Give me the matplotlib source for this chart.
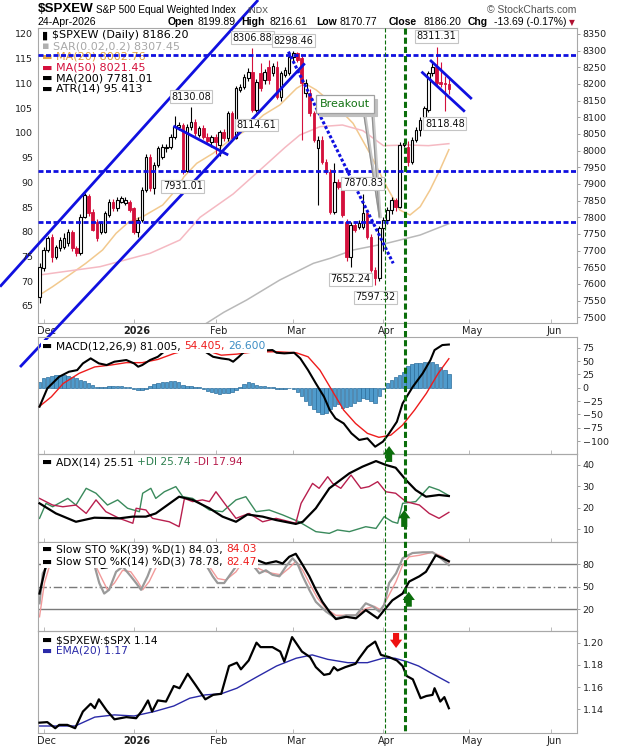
import numpy as np
import pandas as pd
import matplotlib
matplotlib.use('Agg')
import matplotlib.pyplot as plt
from matplotlib.lines import Line2D
from matplotlib.transforms import blended_transform_factory, ScaledTranslation
from matplotlib.offsetbox import TextArea, HPacker, VPacker, AnchoredOffsetbox

plt.rcParams['font.family'] = ['DejaVu Sans']

# ---------------- data ----------------
# daily candles, 28-Nov-2025 .. 24-Apr-2026 (trading days)
opens = [7560, 7647, 7702, 7742, 7682, 7707, 7712, 7722, 7757, 7707,
         7692, 7802, 7865, 7817, 7787, 7757, 7757, 7807, 7847, 7827,
         7847, 7842, 7847, 7827, 7757, 7792, 7882, 7982, 7887, 7957,
         7982, 8007, 8012, 8042, 8072, 8077, 7940, 8070, 8087, 8047,
         8067, 8042, 8027, 8042, 8017, 8057, 8037, 8112, 8037, 8182,
         8192, 8217, 8237, 8122, 8232, 8212, 8252, 8232, 8252, 8162,
         8227, 8232, 8282, 8292, 8277, 8172, 8172, 8112, 8007, 8032,
         7967, 7937, 7817, 7907, 7892, 7787, 7682, 7777, 7772, 7772,
         7812, 7742, 7642, 7617, 7767, 7792, 7822, 7852, 7832, 8017,
         8012, 7967, 8032, 8062, 8092, 8122, 8232, 8252, 8205, 8202,
         8199.89]
highs = [7662, 7712, 7745, 7750, 7718, 7740, 7752, 7765, 7762, 7715,
         7810, 7872, 7870, 7825, 7795, 7790, 7820, 7855, 7856, 7862,
         7865, 7860, 7852, 7832, 7800, 7890, 7990, 7990, 7965, 8015,
         8020, 8020, 8050, 8104, 8085, 8082, 8080, 8130.08, 8095, 8075,
         8078, 8052, 8048, 8050, 8062, 8064, 8118, 8120, 8195, 8200,
         8230, 8248, 8306.88, 8215, 8262, 8245, 8272, 8262, 8268, 8240,
         8250, 8288, 8298.46, 8296, 8285, 8215, 8185, 8120, 8045, 8045,
         7975, 7945, 7962, 7915, 7898, 7795, 7785, 7790, 7792, 7870.83,
         7820, 7750, 7650, 7775, 7800, 7830, 7860, 7858, 8025, 8030,
         8028, 8040, 8070, 8100, 8135, 8240, 8265, 8311.31, 8267, 8225,
         8216.61]
lows = [7542, 7640, 7695, 7665, 7675, 7700, 7705, 7715, 7700, 7685,
        7688, 7798, 7805, 7758, 7730, 7750, 7752, 7800, 7820, 7820,
        7842, 7836, 7815, 7750, 7740, 7785, 7875, 7880, 7870, 7950,
        7975, 7995, 8005, 8035, 8062, 7931.01, 7935, 8062, 8045, 8040,
        8035, 8020, 8010, 7990, 7985, 8030, 8030, 8030, 8035, 8175,
        8185, 8210, 8115, 8114.61, 8180, 8200, 8200, 8225, 8155, 8150,
        8220, 8226, 8270, 8265, 8032, 8160, 8105, 8025, 7837, 7960,
        7930, 7810, 7810, 7885, 7800, 7670, 7652.24, 7755, 7765, 7765,
        7735, 7635, 7597.32, 7610, 7700, 7780, 7810, 7820, 7828, 8010,
        7955, 7960, 8025, 8045, 8085, 8115, 8225, 8195, 8190, 8118.48,
        8170.77]
closes = [7650, 7702, 7737, 7682, 7712, 7732, 7737, 7757, 7707, 7692,
          7802, 7867, 7812, 7762, 7737, 7782, 7812, 7847, 7827, 7852,
          7857, 7852, 7822, 7757, 7792, 7882, 7982, 7887, 7957, 8007,
          8012, 8012, 8042, 8072, 8078, 7940, 8072, 8087, 8052, 8067,
          8042, 8030, 8040, 8027, 8057, 8037, 8112, 8037, 8187, 8190,
          8222, 8237, 8122, 8207, 8187, 8237, 8212, 8254, 8162, 8232,
          8242, 8282, 8292, 8272, 8202, 8202, 8112, 8032, 8032, 7967,
          7937, 7817, 7907, 7892, 7807, 7682, 7777, 7762, 7782, 7812,
          7742, 7642, 7617, 7767, 7792, 7822, 7852, 7832, 8017, 8022,
          7967, 8032, 8062, 8092, 8127, 8232, 8252, 8202, 8200, 8199.89,
          8186.20]

# moving averages (sampled day index, value)
ma20_x = [0, 3.2, 7.3, 11.3, 15.4, 18.7, 21.9, 25.2, 30.1, 33.3, 35.3, 38.4, 42.4, 46.5, 50.6,
          54.7, 58.7, 62.8, 64.8, 67.6, 72.6, 76.6, 80.7, 84.8, 88, 90.5, 93, 95.4, 97.8, 100]
ma20_y = [7567, 7592, 7627, 7662, 7702, 7752, 7787, 7802, 7837, 7882, 7922, 7962, 7992, 8032, 8062,
          8107, 8137, 8187, 8202, 8182, 8132, 8082, 7992, 7892, 7822, 7807, 7832, 7882, 7942, 8003]
ma50_x = [0, 14.8, 27, 34.3, 39.2, 47.3, 55.5, 60, 63.6, 68.5, 74, 79, 84, 90, 95, 100]
ma50_y = [7627, 7652, 7692, 7732, 7800, 7870, 7960, 8010, 8047, 8072, 8077, 8060, 8015, 8017, 8015, 8021]
ma200_x = [40.5, 45, 50.6, 58.7, 66.9, 71, 76.6, 84.8, 93, 100]
ma200_y = [7480, 7515, 7552, 7612, 7662, 7677, 7702, 7722, 7747, 7781]

# labelled highs / lows
callout_idx = [37, 35, 52, 53, 62, 79, 76, 82, 97, 99]
callout_val = [8130.08, 7931.01, 8306.88, 8114.61, 8298.46, 7870.83, 7652.24, 7597.32, 8311.31, 8118.48]
callout_up = [True, False, True, False, True, True, False, False, True, False]

# support / resistance levels and drawn trendlines
levels = [8288, 7939, 7787]
upper_ch = ([-9.65, 53.4], [7592, 8452])
lower_ch = ([-4.76, 64.8], [7351, 8262])
flag_jan = ([32.7, 46.1], [8074, 7987])
down_tl = ([60.8, 86.4], [8297, 7662])
flag_up = ([95.4, 105.6], [8272, 8155])
flag_lo = ([93.3, 103.9], [8237, 8117])

# MACD(12,26,9)
macd_x = [0, 1.9, 4.8, 7.2, 9.2, 10.6, 12.5, 14.5, 16.4, 18.3, 21.2, 23.1, 24.1, 25.1, 27, 28.9,
          30.9, 32.8, 35.7, 38.6, 40.5, 42.4, 44.4, 46.3, 47.3, 48.7, 50.6, 52.1, 54, 56.9, 57.9,
          59.8, 62.2, 63.7, 65.6, 67.5, 69.5, 70.9, 72.3, 74.3, 76.2, 78.1, 80.1, 82, 83.9, 85.4,
          87.3, 88.7, 91.2, 93.6, 95.5, 96.5, 98.4, 100]
macd_y = [-35.6, -1.3, 20.6, 30, 33, 45.6, 55, 45.6, 42.5, 48.8, 51.9, 45.6, 39.4, 42.5, 51.9, 58,
          70.6, 80, 83, 83, 67.5, 58, 55, 53, 48.8, 58, 71.9, 67.5, 69.4, 70.6, 65.6,
          64.4, 65.6, 55, 33, 8.1, -16.9, -41.9, -57.5, -66.9, -85.6, -98, -95, -110.6, -101, -85.6,
          -63.8, -29.4, 1.9, 26.9, 51.9, 70.6, 80, 81.0]
sig_x = [0, 2.9, 5.8, 9.7, 13.5, 17.4, 21.2, 25.1, 28.9, 32.8, 36.7, 40.5, 44.4, 48.2, 52.1,
         57.9, 62.7, 65.6, 68.5, 71.4, 74.3, 77.2, 80.1, 82.9, 85.8, 88.7, 91.6, 94.5, 97.4, 100]
sig_y = [-35, -17, 8, 27, 39, 42.5, 47, 47, 53, 64, 72, 70.6, 61, 63, 67,
         67.5, 65.6, 58, 33, -4.4, -42, -67, -85.6, -93, -89, -70, -42, -10.6, 27, 54.4]
hist = [11, 19, 21, 22, 23, 24, 24, 22, 20, 18, 15,
        12, 9, 5, 2, 1, 2, 3, 3, 4, 3, 2,
        1, -2, -5, -5, -2, 4, 7, 9, 10, 11, 12,
        12, 10, 6, 4, 3, 2, 1, -3, -6, -8, -10,
        -11, -9, -10, -8, -5, 2, 7, 11, 8, 5, 3,
        3, 2, 1, -2, -3, -2, -1, -2, -8, -16, -25,
        -33, -40, -45, -50, -48, -40, -35, -30, -38, -36, -35,
        -28, -24, -20, -22, -25, -28, -15, -2, 8, 14, 20,
        24, 30, 40, 44, 46, 47, 48, 49, 48, 45, 38, 33, 26.6]

# ADX(14)
adx_x = [0, 4.0, 8.9, 13.4, 19.5, 22.8, 26, 28.4, 34.1, 37.4, 41.5, 44.7, 48, 50.8, 54.5,
         57.8, 62.6, 64.3, 67.5, 70.8, 75.7, 78.9, 82.2, 84.6, 87, 89.5, 91.9, 94.4, 97.6, 100]
adx_y = [22.1, 17.4, 13.5, 15.4, 15.1, 15.9, 15.9, 17.4, 25.2, 23.7, 19.8, 15.9, 13.5, 16.9, 15.9,
         14.3, 12.5, 13.5, 19.8, 29.1, 36.1, 39.2, 41.8, 40, 38.7, 33, 28.3, 25.2, 26, 25.5]
pdi_x = [0, 1.6, 3.2, 6.9, 8.9, 11.4, 13.8, 16.6, 19.1, 21.5, 24.4, 25.2, 27.2, 28.4, 30.5,
         33.3, 35, 37.4, 41.5, 44.7, 48, 50.4, 52.9, 56.1, 59.4, 63.4, 67.5, 70.8, 72.8, 75.7,
         79.7, 82.2, 84.2, 86.2, 87.5, 88.7, 91.9, 95.2, 97.6, 100]
pdi_y = [15.1, 22.1, 20.5, 24.4, 21.3, 29.1, 26.8, 21.3, 23.7, 19.8, 18.2, 26.8, 29.1, 24.4, 27.5,
         29.9, 25.2, 24.4, 19, 18.2, 23.7, 25.2, 18.2, 19, 16.7, 13.5, 8.9, 8.1, 9.7, 8.9,
         11.2, 10.4, 15.9, 13.5, 12.8, 22.1, 22.9, 29.9, 28.3, 25.7]
mdi_x = [0, 3.2, 5.7, 8.9, 11.4, 13.8, 16.2, 19.5, 22.8, 23.6, 26, 27.6, 31.7, 34.1, 35.4,
         37.4, 39.8, 41.5, 43.1, 45.5, 48, 51.2, 54.5, 57.8, 62.6, 63.9, 66.7, 68.3, 70.4, 71.6,
         73.6, 76.1, 78.5, 80.5, 82.6, 84.6, 87, 89.5, 92.8, 95.2, 97.6, 100]
mdi_y = [24.4, 21.3, 20.5, 21.3, 17.4, 23.7, 18.2, 15.1, 12.8, 19.8, 19, 15.1, 13.5, 11.2, 24.4,
         22.9, 23.7, 22.9, 27.5, 21.3, 15.1, 17.4, 13.5, 15.1, 12.8, 22.1, 31.4, 29.1, 34.5, 31.4,
         29.1, 35.3, 29.1, 29.9, 32.2, 27.5, 26.8, 22.9, 21.3, 17.4, 15.1, 17.9]

# Slow stochastics
k39_x = [0, 1.6, 3, 6, 9, 12, 14, 15.2, 16.6, 18, 20, 22, 24, 26, 28, 31, 34, 36, 38, 40,
         42, 43.5, 45, 46, 48, 51.2, 52.9, 55.3, 57.8, 59.4, 61, 62.6, 64.3, 65.9, 67.5, 69.1,
         70.8, 72.4, 74.9, 77.3, 79.7, 82.6, 84.2, 86.2, 88.7, 90.3, 92.8, 94.4, 96.8, 98.5, 100]
k39_y = [41, 79, 95, 97, 93, 98, 90, 75, 76, 88, 90, 88, 84, 92, 97, 99, 100, 90, 96, 92,
         88, 79, 80, 86, 81, 90, 86, 81, 84, 81, 90, 94, 79, 64, 46, 30,
         17, 7, 10, 8, 19, 8, 19, 32, 41, 57, 64, 70, 92, 88, 84]
k14_x = [0, 0.8, 2, 5, 8, 11, 13.4, 14.6, 15.8, 17, 18.7, 20.3, 22.3, 23.6, 24.8, 26.4, 27.6,
         30, 33, 36, 38, 40.7, 42.3, 43.5, 45.1, 46.8, 48, 49.2, 50.4, 52.1, 53.7, 55.3, 56.9,
         58.6, 60.2, 61.8, 63, 64.3, 65.9, 67.5, 70, 72.4, 74.9, 77.3, 79.7, 81.4, 83, 84.2,
         85.4, 87.1, 88.7, 91.1, 93.6, 96, 97.6, 100]
k14_y = [28, 68, 79, 92, 88, 95, 79, 55, 41, 46, 70, 77, 64, 55, 46, 64, 81,
         92, 95, 90, 88, 79, 64, 55, 55, 68, 77, 95, 95, 79, 68, 72, 66,
         64, 77, 88, 81, 64, 46, 30, 17, 8, 12, 12, 28, 24, 17, 26,
         55, 68, 88, 95, 96, 96, 90, 79]
d3_x = [0, 1.2, 2.4, 5, 8, 11, 13.8, 15.4, 16.6, 18.3, 20.3, 22.3, 24, 25.2, 26.8, 28.4, 31,
        34, 37, 39.5, 41.5, 43.5, 45.5, 48, 50, 51.7, 53.3, 55.3, 56.9, 59, 61, 62.6, 64.3,
        65.9, 67.9, 70, 72.4, 74.9, 77.3, 79.7, 81.8, 83.4, 85, 87.1, 88.7, 90.3, 92.8, 96,
        98.5, 100]
d3_y = [10, 55, 77, 88, 90, 92, 77, 59, 46, 55, 72, 70, 57, 46, 57, 75, 90,
        94, 93, 88, 77, 61, 59, 70, 86, 86, 75, 70, 68, 66, 75, 84, 72,
        55, 35, 21, 12, 12, 12, 21, 24, 19, 35, 57, 79, 90, 92, 96,
        90, 82.5]

# $SPXEW:$SPX ratio and EMA(20)
ratio_x = [0, 1.9, 3.85, 4.8, 6.8, 8.7, 10.6, 12.5, 13.5, 14.5, 16.4, 18.3, 21.2, 23.6, 25.1,
           26.5, 27.5, 28.9, 30.9, 32.8, 34.2, 36.2, 38.1, 40.5, 42.4, 44.4, 46.3, 48.2, 49.2,
           51.1, 53, 54, 56.9, 58.8, 59.8, 61.7, 64.1, 66.1, 67.5, 69.5, 70.9, 71.9, 72.8, 74.7,
           77.2, 78.1, 80.1, 82, 83.4, 85.4, 87.3, 88.7, 89.7, 91.2, 93.1, 94.5, 96, 96.5, 97.9,
           98.9, 100]
ratio_y = [1.128, 1.1285, 1.123, 1.126, 1.126, 1.123, 1.138, 1.145, 1.141, 1.149, 1.139, 1.131,
           1.133, 1.132, 1.139, 1.148, 1.138, 1.148, 1.147, 1.161, 1.159, 1.172, 1.162, 1.149,
           1.153, 1.154, 1.179, 1.182, 1.176, 1.184, 1.200, 1.196, 1.196, 1.192, 1.183, 1.205,
           1.192, 1.187, 1.178, 1.171, 1.172, 1.178, 1.175, 1.178, 1.181, 1.186, 1.196, 1.201,
           1.189, 1.187, 1.184, 1.179, 1.170, 1.167, 1.150, 1.152, 1.153, 1.159, 1.147, 1.151,
           1.141]
ema_x = [0, 8.7, 13.5, 18.3, 23.1, 28, 32.8, 36.7, 40.5, 44.4, 48.2, 53, 57.9, 62.7, 66.6,
         70.4, 75.3, 80.1, 83.9, 86.8, 89.7, 92.6, 95.5, 100]
ema_y = [1.125, 1.125, 1.133, 1.135, 1.134, 1.138, 1.143, 1.150, 1.153, 1.154, 1.159, 1.169,
         1.179, 1.186, 1.189, 1.185, 1.182, 1.182, 1.186, 1.186, 1.183, 1.179, 1.173, 1.164]

# signal markers
signal_days = [84.45, 89.2]
signal_widths = [0.8, 2.2]

# ---------------- layout helpers ----------------
W, H = 620, 750
RED = '#d4103c'
BLUE = '#1010e0'
GREEN = '#0b6e0b'

fig = plt.figure(figsize=(W / 100, H / 100), dpi=100)
fig.patch.set_facecolor('white')


def rect(top, bottom, left=38, right=577):
    return [left / W, 1 - bottom / H, (right - left) / W, (bottom - top) / H]


ax = fig.add_axes(rect(28, 323))
ax_macd = fig.add_axes(rect(337, 454), sharex=ax)
ax_adx = fig.add_axes(rect(454, 542), sharex=ax)
ax_sto = fig.add_axes(rect(542, 631), sharex=ax)
ax_rat = fig.add_axes(rect(631, 733), sharex=ax)
panels = [ax, ax_macd, ax_adx, ax_sto, ax_rat]

# left-hand scale of the price panel
axl = ax.twinx()

# trading calendar for the month ticks
holidays = ['2025-11-27', '2025-12-25', '2026-01-01', '2026-01-19', '2026-02-16',
            '2026-04-03', '2026-05-25']
days = pd.bdate_range('2025-11-28', '2026-06-30', freq='C', holidays=holidays)
month_first = [i for i in range(1, len(days)) if days[i].month != days[i - 1].month]
month_names = ['Dec', '2026', 'Feb', 'Mar', 'Apr', 'May', 'Jun']
month_ticks = month_first[:len(month_names)]

for a in panels:
    a.set_facecolor('none')
    for s in a.spines.values():
        s.set_color('#a8a8a8')
        s.set_linewidth(0.8)
    a.yaxis.tick_right()
    a.yaxis.set_label_position('right')
    a.tick_params(axis='y', direction='out', length=2.5, width=0.6, color='#909090',
                  labelsize=6.8, labelcolor='#222222', pad=1.5)
    a.set_xticks(month_ticks)
    a.tick_params(axis='x', direction='in', length=3, width=0.6, color='#b0b0b0',
                  labelbottom=False)

ax.set_xlim(-0.37, 131.3)

shift = ScaledTranslation(3 / 100, 0, fig.dpi_scale_trans)
for a in (ax, ax_rat):
    a.tick_params(axis='x', labelbottom=True, labelsize=7, labelcolor='#222222', pad=2)
    a.set_xticklabels(month_names)
    for lab in a.get_xticklabels():
        lab.set_horizontalalignment('center')
        lab.set_transform(lab.get_transform() + shift)
        if lab.get_text() == '2026':
            lab.set_fontweight('bold')


def legend_rows(axis, rows, x_px, y_px, size, sep=0.0, frame=True):
    vrows = []
    for row in rows:
        parts = [TextArea(t, textprops=dict(color=c, fontsize=size)) for t, c in row]
        vrows.append(HPacker(children=parts, align='baseline', pad=0, sep=2.5))
    box = VPacker(children=vrows, align='left', pad=0, sep=sep)
    ab = AnchoredOffsetbox(loc='upper left', child=box, pad=0.1, borderpad=0,
                           frameon=frame, bbox_to_anchor=(x_px / W, 1 - y_px / H),
                           bbox_transform=fig.transFigure)
    if frame:
        ab.patch.set_facecolor('white')
        ab.patch.set_edgecolor('none')
    ab.set_zorder(5)
    axis.add_artist(ab)


# ---------------- price panel ----------------
x = np.arange(len(closes))
o, h, l, c = (np.array(v, dtype=float) for v in (opens, highs, lows, closes))
up = c >= o
body_lo = np.minimum(o, c)
body_h = np.maximum(np.abs(c - o), 2.0)
ax.vlines(x[up], l[up], h[up], color='black', lw=0.8, zorder=3)
ax.vlines(x[~up], l[~up], h[~up], color=RED, lw=0.8, zorder=3)
ax.bar(x[up], body_h[up], bottom=body_lo[up], width=0.62, facecolor='white',
       edgecolor='black', linewidth=0.8, zorder=4)
ax.bar(x[~up], body_h[~up], bottom=body_lo[~up], width=0.62, facecolor=RED,
       edgecolor=RED, linewidth=0.6, zorder=4)

ax.plot(ma20_x, ma20_y, color='#f2c98e', lw=1.1, zorder=2)
ax.plot(ma50_x, ma50_y, color='#f5b9c2', lw=1.1, zorder=2)
ax.plot(ma200_x, ma200_y, color='#b9b9b9', lw=1.1, zorder=2)

ax.set_ylim(7483, 8368)
ax.set_yticks(np.arange(7500, 8351, 50))

axl.set_ylim(61.56, 121.2)
axl.set_yticks(np.arange(65, 121, 5))
axl.yaxis.tick_left()
axl.tick_params(axis='y', length=0, labelsize=6.8, labelcolor='#222222', pad=3.5)
for s in axl.spines.values():
    s.set_visible(False)
ax.yaxis.tick_right()
ax.tick_params(axis='y', labelleft=False, labelright=True)

for lv in levels:
    ax.axhline(lv, color=BLUE, lw=2.0, linestyle=(0, (1.8, 0.9)), zorder=6)

for xs, ys in (upper_ch, lower_ch, flag_jan, flag_up, flag_lo):
    ax.plot(xs, ys, color=BLUE, lw=2.0, clip_on=False, zorder=6, solid_capstyle='butt')
ax.plot(down_tl[0], down_tl[1], color=BLUE, lw=2.2, linestyle=(0, (1.0, 0.7)),
        clip_on=False, zorder=6)

for i, v, is_up in zip(callout_idx, callout_val, callout_up):
    ax.annotate(f'{v:.2f}', xy=(i, v), xytext=(0, 7.5 if is_up else -9),
                textcoords='offset points', ha='center', va='center', fontsize=7,
                color='#111111', zorder=7,
                bbox=dict(boxstyle='square,pad=0.15', fc='white', ec='#c4c4c4', lw=0.8))

# "Breakout" callout
bx, by = 74.6, 8140
ax.plot([79.5, 83.2], [8107, 7802], color='#c8c8c8', lw=2.2, zorder=6)
ax.plot([81.2, 83.2], [8162, 7802], color='#c8c8c8', lw=2.2, zorder=6)
ax.plot([79.2, 83.0], [8110, 7802], color='#909090', lw=0.9, zorder=6)
ax.plot([80.9, 83.0], [8165, 7802], color='#909090', lw=0.9, zorder=6)
ax.annotate('Breakout', xy=(bx, by), xytext=(2.5, -2.5), textcoords='offset points',
            ha='center', va='center', fontsize=8, color='#c0c0c0', zorder=7,
            bbox=dict(boxstyle='square,pad=0.35', fc='#c0c0c0', ec='#c0c0c0', lw=0.8))
ax.text(bx, by, 'Breakout', ha='center', va='center', fontsize=8, color='#137313', zorder=8,
        bbox=dict(boxstyle='square,pad=0.35', fc='white', ec='#a0a0a0', lw=0.9))

legend_rows(ax, [
    [('\u25AE', 'black'), (r'\$SPXEW (Daily) 8186.20', 'black')],
    [('\u25AA', '#b0b0b0'), ('SAR(0.02,0.2) 8307.45', '#a8a8a8')],
    [('\u25AC', '#e2a545'), ('MA(20) 8002.76', '#dca040')],
    [('\u25AC', RED), ('MA(50) 8021.45', RED)],
    [('\u25AC', 'black'), ('MA(200) 7781.01', 'black')],
    [('\u25AC', 'black'), ('ATR(14) 95.413', 'black')],
], 41, 29, 8, sep=0.5, frame=False)

# ---------------- MACD ----------------
hv = np.array(hist)
ax_macd.bar(np.arange(len(hv)), hv, width=0.85, color='#4f9bcc', edgecolor='#2c6e9c',
            linewidth=0.5, zorder=2)
ax_macd.plot(sig_x, sig_y, color='#ee1c1c', lw=1.0, zorder=3)
ax_macd.plot(macd_x, macd_y, color='black', lw=1.5, zorder=3)
ax_macd.set_ylim(-124.3, 95.1)
ax_macd.set_yticks([-100, -75, -50, -25, 0, 25, 50, 75])
legend_rows(ax_macd, [[('\u25AC', 'black'), ('MACD(12,26,9) 81.005,', 'black'),
                       ('54.405,', '#ee1c1c'), ('26.600', '#3a8cc4')]], 41, 340, 7.7)

# ---------------- ADX ----------------
ax_adx.plot(pdi_x, pdi_y, color='#3a8a5c', lw=1.0, zorder=2)
ax_adx.plot(mdi_x, mdi_y, color='#b81f4e', lw=1.0, zorder=2)
ax_adx.plot(adx_x, adx_y, color='black', lw=1.6, zorder=3)
ax_adx.set_ylim(4.07, 45.1)
ax_adx.set_yticks([10, 20, 30, 40])
legend_rows(ax_adx, [[('\u25AC', 'black'), ('ADX(14) 25.51', 'black'),
                      ('+DI 25.74', '#2f8050'), ('-DI 17.94', '#b81f4e')]], 41, 456, 7.7)

# ---------------- Slow stochastics ----------------
for lv, ls in ((80, '-'), (50, (0, (6, 2, 1, 2))), (20, '-')):
    ax_sto.axhline(lv, color='#7a7a7a', lw=1.0, linestyle=ls, zorder=1)
ax_sto.plot(d3_x, d3_y, color='#f29a9a', lw=1.0, zorder=2)
ax_sto.plot(k14_x, k14_y, color='#9a9a9a', lw=1.6, zorder=2)
ax_sto.plot(k39_x, k39_y, color='black', lw=1.6, zorder=3)
ax_sto.set_ylim(-8.9, 109.7)
ax_sto.set_yticks([20, 50, 80])
legend_rows(ax_sto, [
    [('\u25AC', 'black'), ('Slow STO %K(39) %D(1) 84.03,', 'black'), ('84.03', '#ee1c1c')],
    [('\u25AC', 'black'), ('Slow STO %K(14) %D(3) 78.78,', 'black'), ('82.47', '#ee1c1c')],
], 41, 543, 7.7, sep=1.6)

# ---------------- ratio ----------------
ax_rat.plot(ema_x, ema_y, color='#2a2aa8', lw=1.0, zorder=2)
ax_rat.plot(ratio_x, ratio_y, color='black', lw=1.6, zorder=3)
ax_rat.set_ylim(1.1187, 1.2105)
ax_rat.set_yticks([1.14, 1.16, 1.18, 1.20])
ax_rat.set_yticklabels(['1.14', '1.16', '1.18', '1.20'])
legend_rows(ax_rat, [
    [('\u25AC', 'black'), (r'\$SPXEW:\$SPX 1.14', 'black')],
    [('\u25AC', '#2a2aa8'), ('EMA(20) 1.17', '#2a2aa8')],
], 41, 634, 7.7, sep=0.4)

# ---------------- signal lines and arrows ----------------
trans = blended_transform_factory(ax.transData, fig.transFigure)
for d, lw in zip(signal_days, signal_widths):
    dash = (0, (3.6, 1.8)) if lw < 1 else (0, (2.0, 1.0))
    fig.add_artist(Line2D([d, d], [1 - 28 / H, 1 - 733 / H], transform=trans, color=GREEN,
                          lw=lw, linestyle=dash, zorder=3))


def block_arrow(axis, xpos, y_tail, y_tip, color):
    axis.annotate('', xy=(xpos, y_tip), xytext=(xpos, y_tail), annotation_clip=False,
                  arrowprops=dict(arrowstyle='simple,head_length=0.75,head_width=1.1,tail_width=0.55',
                                  mutation_scale=8, fc=color, ec=color, lw=0,
                                  shrinkA=0, shrinkB=0), zorder=9)


block_arrow(ax_adx, 85.4, 41.4, 48.8, GREEN)
block_arrow(ax_adx, 89.1, 11.1, 19.0, GREEN)
block_arrow(ax_sto, 90.2, 23.5, 43.5, GREEN)
block_arrow(ax_rat, 87.1, 1.2087, 1.1952, '#ee1111')

# ---------------- header ----------------
hfam = ['Liberation Sans', 'DejaVu Sans']
fig.text(38 / W, 1 - 9 / H, r'\$SPXEW', fontsize=9.6, fontweight='bold', va='center', family=hfam)
fig.text(96 / W, 1 - 10 / H, 'S&P 500 Equal Weighted Index', fontsize=7.2, va='center', family=hfam)
fig.text(247 / W, 1 - 10.5 / H, 'INDX', fontsize=6.3, va='center', color='#444444', family=hfam)
fig.text(576 / W, 1 - 10 / H, '\u00a9 StockCharts.com', fontsize=7.5, ha='right', va='center',
         color='#555555', family=hfam)

fig.text(38 / W, 1 - 22 / H, '24-Apr-2026', fontsize=7.6, va='center', family=hfam)
quote = [('Open', 168, True), ('8199.89', 197, False), ('High', 241, True), ('8216.61', 270, False),
         ('Low', 316, True), ('8170.77', 340, False), ('Close', 389, True), ('8186.20', 423, False),
         ('Chg', 468, True), ('-13.69 (-0.17%)', 494, False)]
for txt, xp, bold in quote:
    fig.text(xp / W, 1 - 22 / H, txt, fontsize=7.5, va='center',
             fontweight='bold' if bold else 'normal', family=hfam)
fig.text(569 / W, 1 - 22.5 / H, '\u25BC', fontsize=5.5, va='center', color='#b01030',
         family=['DejaVu Sans'])

plt.savefig('out.png', dpi=100)
